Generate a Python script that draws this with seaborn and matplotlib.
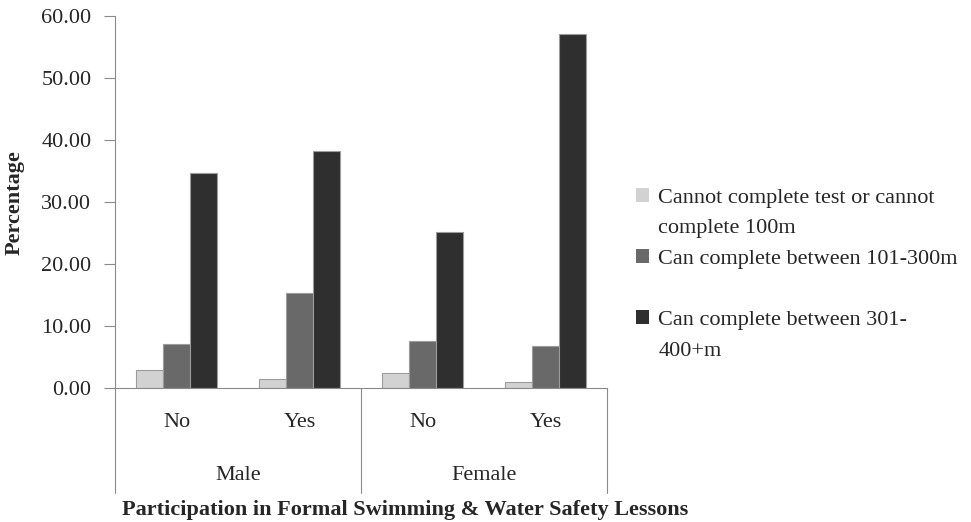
import matplotlib
matplotlib.use("Agg")
import matplotlib.pyplot as plt
import matplotlib.transforms as mtransforms
from matplotlib.patches import Patch
from matplotlib.ticker import FuncFormatter
import seaborn as sns
import pandas as pd

# ---- data ----
genders = ["Male", "Female"]
lessons = ["No", "Yes"]
series = ["Cannot complete test or cannot complete 100m",
          "Can complete between 101-300m",
          "Can complete between 301-400+m"]
cannot_complete = [2.9, 1.4, 2.4, 0.9]
complete_101_300 = [7.1, 15.3, 7.6, 6.7]
complete_301_400 = [34.7, 38.2, 25.1, 57.0]
colors = ["#d2d2d2", "#696969", "#2f2f2f"]

cats = [f"{g} {l}" for g in genders for l in lessons]
rows = []
for s, vals in zip(series, [cannot_complete, complete_101_300, complete_301_400]):
    for c, v in zip(cats, vals):
        rows.append({"cat": c, "series": s, "value": v})
df = pd.DataFrame(rows)

sns.set_style("white")
plt.rcParams["font.family"] = ["Liberation Serif", "DejaVu Serif"]

W, H = 971, 522
fig = plt.figure(figsize=(W / 100, H / 100), dpi=100)
x0, x1, ytop, ybot = 115, 607, 15.7, 388
ax = fig.add_axes([x0 / W, 1 - ybot / H, (x1 - x0) / W, (ybot - ytop) / H])

sns.barplot(data=df, x="cat", y="value", hue="series", order=cats, hue_order=series,
            palette=colors, saturation=1, width=0.66, edgecolor="#9c9c9c",
            linewidth=0.8, ax=ax, legend=False)

gray = "#8a8a8a"
fs = 16
ax.set_xlim(-0.5, 3.5)
ax.set_ylim(0, 60)
ax.set_yticks(range(0, 61, 10))
ax.yaxis.set_major_formatter(FuncFormatter(lambda v, p: f"{v:.2f}"))
ax.tick_params(axis="y", direction="out", length=8, width=0.8, color=gray,
               labelsize=fs, pad=9, left=True)
ax.set_xticks(range(4))
ax.set_xticklabels(lessons * 2)
ax.tick_params(axis="x", length=0, labelsize=fs, pad=18)
ax.set_xlabel("")
ax.set_ylabel("")
for sp in ["top", "right"]:
    ax.spines[sp].set_visible(False)
for sp in ["left", "bottom"]:
    ax.spines[sp].set_color(gray)
    ax.spines[sp].set_linewidth(0.8)

axh = ybot - ytop
trans = mtransforms.blended_transform_factory(ax.transData, ax.transAxes)
sep_bottom = -(492.5 - ybot) / axh
for xv in [-0.5, 1.5, 3.5]:
    ax.plot([xv, xv], [0, sep_bottom], transform=trans, color=gray, lw=0.8,
            clip_on=False)
for i, g in enumerate(genders):
    ax.text(2 * i + 0.5, -(475 - ybot) / axh, g, transform=trans, ha="center",
            va="center", fontsize=fs)

fig.text(15 / W, 1 - 203 / H, "Percentage", rotation=90, ha="center", va="center",
         fontsize=fs, fontweight="bold")
fig.text(405 / W, 1 - 510 / H, "Participation in Formal Swimming & Water Safety Lessons",
         ha="center", va="center", fontsize=16, fontweight="bold")

# legend: each series' label split over rows, marker on its first row
leg_labels = ["Cannot complete test or cannot", "complete 100m",
              "Can complete between 101-300m", " ",
              "Can complete between 301-", "400+m"]
blank = Patch(facecolor="none", edgecolor="none")
leg_handles = [Patch(facecolor=colors[0], edgecolor="none"), blank,
               Patch(facecolor=colors[1], edgecolor="none"), blank,
               Patch(facecolor=colors[2], edgecolor="none"), blank]
fig.legend(leg_handles, leg_labels, loc="upper left",
           bbox_to_anchor=(636 / W, 1 - 188 / H), frameon=False, fontsize=fs,
           handlelength=0.6, handleheight=0.6, handletextpad=0.4,
           labelspacing=0.48, borderpad=0, borderaxespad=0)

fig.savefig("out.png", dpi=100)
